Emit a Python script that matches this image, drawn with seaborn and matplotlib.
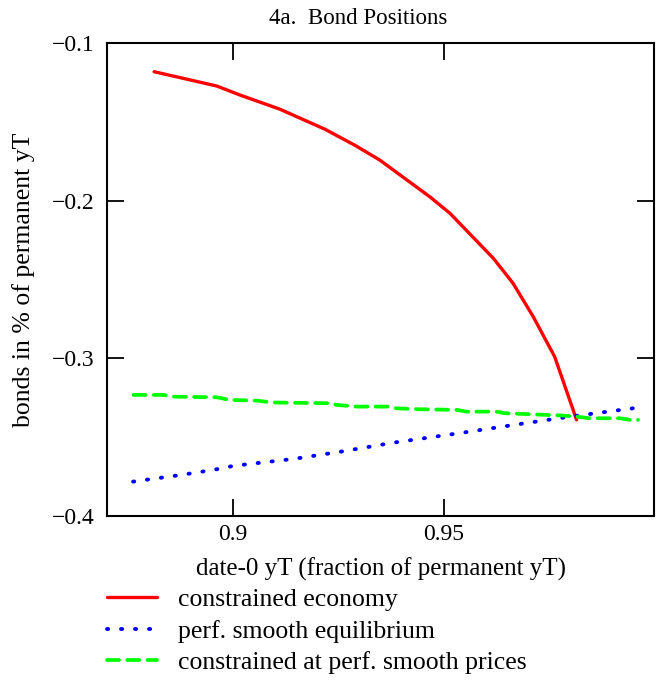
import numpy as np
import pandas as pd
import matplotlib
matplotlib.use("Agg")
import matplotlib.pyplot as plt
import seaborn as sns

# ---- data ----
red_x = [0.8812, 0.8961, 0.9016, 0.9111, 0.9218, 0.9290, 0.9348, 0.9467, 0.9515,
         0.9618, 0.9665, 0.9713, 0.9764, 0.9816]
red_y = [-0.1182, -0.1273, -0.1330, -0.1420, -0.1547, -0.1650, -0.1742, -0.1975, -0.2080,
         -0.2365, -0.2524, -0.2736, -0.2990, -0.3390]

blue_x = [0.8762, 0.8880, 0.8976, 0.9000, 0.9143, 0.9260, 0.9380, 0.9547, 0.9660,
          0.9784, 0.9831, 0.9950]
blue_y = [-0.3782, -0.3738, -0.3697, -0.3682, -0.3638, -0.3590, -0.3535, -0.3471, -0.3425,
          -0.3376, -0.3359, -0.3317]

green_x = [0.8763, 0.8834, 0.8858, 0.8961, 0.8992, 0.9056, 0.9091, 0.9234, 0.9245,
           0.9293, 0.9372, 0.9388, 0.9443, 0.9531, 0.9554, 0.9625, 0.9645, 0.9784,
           0.9816, 0.9847, 0.9919, 0.9943, 0.9962]
green_y = [-0.3232, -0.3232, -0.3243, -0.3247, -0.3264, -0.3268, -0.3280, -0.3285, -0.3295,
           -0.3306, -0.3306, -0.3317, -0.3323, -0.3327, -0.3338, -0.3338, -0.3348, -0.3363,
           -0.3370, -0.3380, -0.3380, -0.3390, -0.3390]

labels = ["constrained economy", "perf. smooth equilibrium",
          "constrained at perf. smooth prices"]
x_ticks = [0.9, 0.95]
x_tick_labels = ["0.9", "0.95"]
y_ticks = [-0.4, -0.3, -0.2, -0.1]
y_tick_labels = ["\u22120.4", "\u22120.3", "\u22120.2", "\u22120.1"]

sns.set_style("white")
plt.rcParams["font.family"] = ["Liberation Serif", "DejaVu Serif"]
plt.rcParams["text.color"] = "black"
plt.rcParams["axes.labelcolor"] = "black"
plt.rcParams["xtick.color"] = "black"
plt.rcParams["ytick.color"] = "black"

fig = plt.figure(figsize=(6.57, 6.82), dpi=100)
ax = fig.add_axes([107 / 657, 1 - 516 / 682, (654 - 107) / 657, (516 - 43) / 682])

sns.lineplot(x=red_x, y=red_y, ax=ax, color="#ff0000", lw=2.4, sort=False,
             label=labels[0])
sns.lineplot(x=blue_x, y=blue_y, ax=ax, color="#0000ff", lw=2.8, sort=False,
             label=labels[1], linestyle=(0, (0.3, 3.3)), dash_capstyle="round")
sns.lineplot(x=green_x, y=green_y, ax=ax, color="#00ff00", lw=2.7, sort=False,
             label=labels[2], linestyle=(0, (3.2, 2.2)), dash_capstyle="round")

ax.set_xlim(0.87, 1.0)
ax.set_ylim(-0.4, -0.1)
ax.set_xticks(x_ticks)
ax.set_xticklabels(x_tick_labels)
ax.set_yticks(y_ticks)
ax.set_yticklabels(y_tick_labels)

for s in ax.spines.values():
    s.set_color("black")
    s.set_linewidth(1.5)
ax.tick_params(direction="in", length=12, width=1.3, top=True, right=True,
               bottom=True, left=True, labelsize=17, colors="black")
ax.tick_params(axis="y", pad=9)
ax.tick_params(axis="x", pad=6)

ax.set_xlabel("date-0 yT (fraction of permanent yT)", fontsize=18, labelpad=9)
ax.set_ylabel("bonds in % of permanent yT", fontsize=18.5, labelpad=12)
ax.set_title("4a.  Bond Positions", fontsize=16.5, pad=14, x=0.46)

leg = ax.legend(loc="upper left", bbox_to_anchor=(0.0, -0.153), frameon=False,
                fontsize=18.5, handlelength=1.95, handletextpad=0.8,
                labelspacing=0.33, borderaxespad=0, borderpad=0)

fig.savefig("out.png", dpi=100)
